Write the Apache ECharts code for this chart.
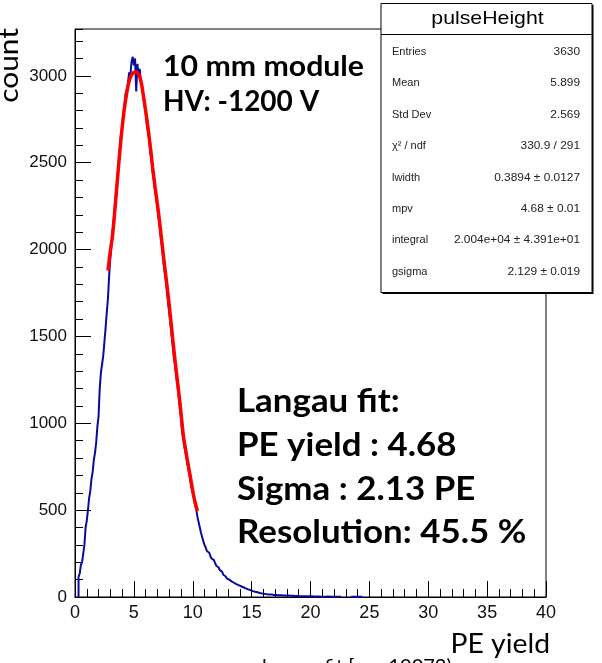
<!DOCTYPE html>
<html><head><meta charset="utf-8">
<script src="https://cdn.jsdelivr.net/npm/echarts@6/dist/echarts.min.js"></script>
<style>html,body{margin:0;padding:0;background:#fff}#c{width:602px;height:663px}</style>
</head><body><div id="c"></div>
<script>
// ---- data ----
const binStart = 0.3;
const binWidth = 0.1;
const histCounts = [
  115,135,185,200,250,300,400,440,500,570,
  610,680,720,790,830,890,980,1040,1200,1290,
  1340,1390,1470,1550,1640,1720,1850,1950,2030,2110,
  2180,2260,2340,2420,2490,2570,2660,2700,2780,2830,
  2900,2920,2960,3020,3000,3080,3110,3060,3100,2910,
  3070,3010,3040,2960,2940,2880,2830,2790,2720,2680,
  2630,2560,2510,2440,2400,2340,2300,2240,2180,2130,
  2060,2010,1940,1880,1830,1770,1700,1640,1580,1510,
  1450,1380,1340,1270,1220,1160,1090,1030,950,910,
  860,830,790,750,710,670,630,600,570,530,
  505,460,430,400,370,345,320,300,285,265,
  255,245,235,222,212,205,195,180,170,162,
  155,145,138,128,118,112,106,100,94,90,
  86,82,78,74,70,68,64,62,58,56,
  54,50,46,44,42,40,37,34,32,30,
  28,27,25,23,21,20,19,18,17,16,
  16,15,14,14,13,12,12,11,11,10,
  10,10,9,9,9,8,8,8,8,7,
  7,7,7,6,6,6,6,5,5,5,
  5,5,4,4,4,4,4,4,3,3,
  3,3,3,3,3,2,3,2,2,2,
  2,3,2,2,2,2,2,2,1,2,
  1,2,1,null,null,null,null,null,null,null,
  null,2,1,2,1,2,2,1,2,1,
  1
];
const fitX = [2.8,3.0,3.2,3.4,3.6,3.8,4.0,4.2,4.4,4.6,4.8,5.0,5.2,5.4,5.6,5.8,6.0,6.2,6.4,6.6,6.8,7.0,7.2,7.4,7.6,7.8,8.0,8.2,8.4,8.6,8.8,9.0,9.2,9.4,9.6,9.8,10.0,10.2,10.4];
const fitY = [1880,1990,2090,2240,2400,2560,2700,2815,2905,2970,3005,3020,3022,3010,2970,2890,2800,2700,2590,2470,2360,2260,2150,2030,1910,1800,1680,1550,1420,1300,1185,1060,930,845,765,690,610,545,495];
const statsTitle = 'pulseHeight';
const statsLabels = ['Entries','Mean','Std Dev','\u03c7\u00b2 / ndf','lwidth','mpv','integral','gsigma'];
const statsValues = ['3630','5.899','2.569','330.9 / 291','0.3894 \u00b1 0.0127','4.68 \u00b1 0.01','2.004e+04 \u00b1 4.391e+01','2.129 \u00b1 0.019'];
const headerLines = ['10 mm module','HV: -1200 V'];
const infoLines = ['Langau fit:','PE yield : 4.68','Sigma : 2.13 PE','Resolution: 45.5 %'];
const xName = 'PE yield';
const yName = 'count';
const footText = 'langau fit [run 10073)';

// ---- build ----
const histPts = [];
let open = false;
for (let i = 0; i < histCounts.length; i++) {
  const x = +(binStart + i * binWidth).toFixed(4);
  const c = histCounts[i];
  if (c === null) {
    if (open) { histPts.push([x, histCounts[i-1]]); histPts.push([x, 0]); histPts.push([x, null]); open = false; }
    continue;
  }
  if (!open) { histPts.push([x, 0]); open = true; }
  histPts.push([x, c]);
}
if (open) {
  const xe = +(binStart + histCounts.length * binWidth).toFixed(4);
  histPts.push([xe, histCounts[histCounts.length-1]]);
}
const fitPts = fitX.map((x, i) => [x, fitY[i]]);

function txt(x, y, text, o) {
  o = o || {};
  return {
    type: 'text', x: x, y: y, z: o.z || 50, rotation: o.rotation || 0,
    scaleX: o.scaleX || 1,
    style: {
      text: text, fill: o.color || '#000',
      font: o.font,
      align: o.align || 'left', verticalAlign: o.va || 'middle',
      textAlign: o.align || 'left', textVerticalAlign: o.va || 'middle'
    }
  };
}

const graphics = [];
// stats box
const bx = 381, by = 3.5, bw = 211, bh = 289;
graphics.push({type:'rect', z: 98, shape:{x:bx+1.5,y:by+1.5,width:bw,height:bh}, style:{fill:'#000'}});
graphics.push({type:'rect', z: 99, shape:{x:bx,y:by,width:bw,height:bh}, style:{fill:'#fff',stroke:'#000',lineWidth:1}});
graphics.push({type:'line', z: 100, shape:{x1:bx,y1:34.5,x2:bx+bw,y2:34.5}, style:{stroke:'#000',lineWidth:1}});
graphics.push(txt(bx + bw/2 + 1, 19, statsTitle, {font:'19px "Liberation Sans"', align:'center', z:101, scaleX:1.12}));
statsLabels.forEach((l, i) => {
  const yy = 52 + i * 31.4;
  graphics.push(txt(392, yy, l, {font:'11px "Liberation Sans"', z:101, color:'#222'}));
  graphics.push(txt(580, yy, statsValues[i], {font:'11px "Liberation Sans"', align:'right', z:101, color:'#222', scaleX:1.08}));
});
// header text
headerLines.forEach((l, i) => {
  graphics.push(txt(163, 67 + i * 35, l, {font:'bold 28px Lato', scaleX: i === 0 ? 1.08 : 1}));
});
infoLines.forEach((l, i) => {
  graphics.push(txt(237, 402 + i * 43.7, l, {font:'bold 32px Lato', scaleX: 1.09}));
});
graphics.push(txt(10, 28, yName, {font:'26px Lato', align:'right', rotation: Math.PI/2, scaleX: 1.15}));
graphics.push(txt(550, 645, xName, {font:'26px Lato', align:'right', scaleX: 1.09}));
graphics.push(txt(262, 667, footText, {font:'20px Lato', align:'left'}));

const axisCol = '#000';
const option = {
  animation: false,
  backgroundColor: '#fff',
  grid: {left: 75, right: 56, top: 29, bottom: 66, show: true, borderColor: '#000', borderWidth: 1},
  xAxis: {
    type: 'value', min: 0, max: 40, interval: 5,
    axisLine: {show: true, onZero: false, lineStyle: {color: axisCol, width: 1}},
    axisTick: {show: true, inside: true, length: 16, lineStyle: {color: axisCol}},
    minorTick: {show: true, splitNumber: 5, length: 8, lineStyle: {color: axisCol}},
    splitLine: {show: false},
    axisLabel: {color: '#111', fontSize: 18, fontFamily: 'Liberation Sans', margin: 7, formatter: v => String(v)}
  },
  yAxis: [{
    type: 'value', min: 0, max: 3270, interval: 500, position: 'left',
    axisLine: {show: true, onZero: false, lineStyle: {color: axisCol, width: 1}},
    axisTick: {show: true, inside: true, length: 16, lineStyle: {color: axisCol}},
    splitLine: {show: false},
    axisLabel: {color: '#111', fontSize: 17, fontFamily: 'Liberation Sans', margin: 8, showMaxLabel: false, formatter: v => String(v)}
  }, {
    type: 'value', min: 0, max: 3270, interval: 100, position: 'left', offset: 0,
    axisLine: {show: false},
    axisTick: {show: true, inside: true, length: 8, lineStyle: {color: axisCol}},
    splitLine: {show: false},
    axisLabel: {show: false}
  }],
  series: [{
    type: 'line', data: histPts, step: 'end', symbol: 'none', yAxisIndex: 0,
    lineStyle: {color: '#0a0a9e', width: 2}, z: 3
  }, {
    type: 'line', data: fitPts, smooth: 0.4, symbol: 'none', yAxisIndex: 0,
    lineStyle: {color: '#ff0000', width: 3.5}, z: 4
  }],
  graphic: graphics
};
const chart = echarts.init(document.getElementById('c'), null, {renderer: 'canvas'});
chart.setOption(option);
</script>
</body></html>
